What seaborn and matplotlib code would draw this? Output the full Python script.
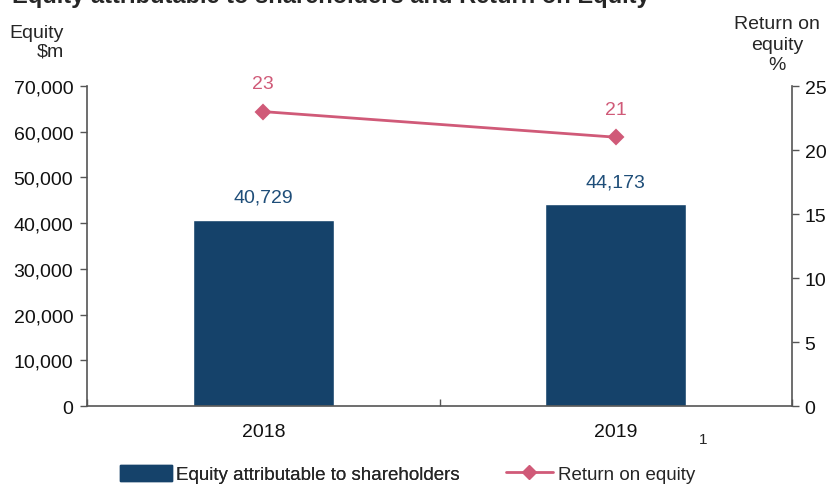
"""plot.py - equity attributable to shareholders vs return on equity."""

import matplotlib
matplotlib.use("Agg")
import matplotlib.pyplot as plt
import seaborn as sns
import pandas as pd
from matplotlib.lines import Line2D
from matplotlib.patches import Patch
from matplotlib.ticker import FuncFormatter, MultipleLocator

years = ["2018", "2019"]
equity = [40729, 44173]
roe = [23, 21]

equity_ticks = [0, 10000, 20000, 30000, 40000, 50000, 60000, 70000]
roe_ticks = [0, 5, 10, 15, 20, 25]

BAR_COLOR = "#15426a"
LINE_COLOR = "#d05a78"
LABEL_BLUE = "#1f4e79"
SPINE = "#555555"
FS = 14

sns.set_theme(style="white")
plt.rcParams["font.family"] = ["Liberation Sans", "DejaVu Sans"]

df = pd.DataFrame({"year": years, "equity": equity, "roe": roe})

fig = plt.figure(figsize=(8.32, 4.85), dpi=100)
ax = fig.add_axes([0.1046, 0.1608, 0.8474, 0.6598])

sns.barplot(data=df, x="year", y="equity", color=BAR_COLOR, width=0.4,
            saturation=1, ax=ax)
ax.set_ylim(0, 70000)
ax.set_xlim(-0.5, len(years) - 0.5)
ax.set_yticks(equity_ticks)
ax.yaxis.set_major_formatter(FuncFormatter(lambda v, p: f"{int(v):,}"))
ax.set_xlabel("")
ax.set_ylabel("")

for i, v in enumerate(equity):
    ax.annotate(f"{v:,}", (i, v), xytext=(0, 10), textcoords="offset points",
                ha="center", va="bottom", color=LABEL_BLUE, fontsize=FS)

ax2 = ax.twinx()
sns.pointplot(data=df, x="year", y="roe", color=LINE_COLOR, markers="D",
              errorbar=None, ax=ax2, markersize=7, linewidth=2)
ax2.set_ylim(0, 25)
ax2.set_xlim(-0.5, len(years) - 0.5)
ax2.set_yticks(roe_ticks)
ax2.set_ylabel("")
ax2.set_xlabel("")
for i, v in enumerate(roe):
    ax2.annotate(f"{v}", (i, v), xytext=(0, 14), textcoords="offset points",
                 ha="center", va="bottom", color=LINE_COLOR, fontsize=FS)

# spines / ticks
for a in (ax, ax2):
    for s in a.spines.values():
        s.set_visible(False)
ax.spines["left"].set_visible(True)
ax.spines["bottom"].set_visible(True)
ax2.spines["right"].set_visible(True)
for s in (ax.spines["left"], ax.spines["bottom"], ax2.spines["right"]):
    s.set_color(SPINE)
    s.set_linewidth(1.2)

ax.tick_params(axis="y", left=True, direction="out", length=5, width=1,
               color=SPINE, labelsize=FS, pad=5, labelcolor="#111111")
ax2.tick_params(axis="y", right=True, direction="out", length=5, width=1,
                color=SPINE, labelsize=FS, pad=4, labelcolor="#111111")
ax.tick_params(axis="x", which="major", length=0, labelsize=FS, pad=12,
               labelcolor="#111111")
ax.xaxis.set_minor_locator(MultipleLocator(1, offset=0.5))
ax.tick_params(axis="x", which="minor", bottom=True, direction="in",
               length=5, width=1, color=SPINE)
ax2.tick_params(axis="x", bottom=False, labelbottom=False)
ax.grid(False)
ax2.grid(False)

# axis titles
fig.text(64 / 832, 1 - 43 / 485, "Equity\n$m", ha="right", va="center",
         fontsize=FS, linespacing=1.15, multialignment="right")
fig.text(777 / 832, 1 - 45 / 485, "Return on\nequity\n%", ha="center",
         va="center", fontsize=FS, linespacing=1.25)

# chart title, cut at the top edge as in the source
fig.text(12 / 832, 1 - 3.5 / 485,
         "Equity attributable to shareholders and Return on Equity",
         ha="left", va="baseline", fontsize=17, fontweight="bold")

# legend: two pieces so each handle sits where the source has it
leg1 = fig.legend(handles=[Patch(facecolor=BAR_COLOR, edgecolor=BAR_COLOR,
                                 label="Equity attributable to shareholders")],
                  loc="center left", bbox_to_anchor=(120 / 832, 1 - 475 / 485),
                  frameon=False, fontsize=13.5, handlelength=2.8,
                  handleheight=1.0, handletextpad=0.2, borderpad=0,
                  borderaxespad=0)
fig.add_artist(leg1)
fig.legend(handles=[Line2D([0], [0], color=LINE_COLOR, marker="D",
                           markersize=7, linewidth=2,
                           label="Return on equity")],
           loc="center left", bbox_to_anchor=(506 / 832, 1 - 475 / 485),
           frameon=False, fontsize=13.5, handlelength=2.5,
           handletextpad=0.3, borderpad=0, borderaxespad=0)
fig.text(703 / 832, 1 - 440 / 485, "1", ha="center", va="center", fontsize=11)

fig.savefig("out.png", dpi=100)
